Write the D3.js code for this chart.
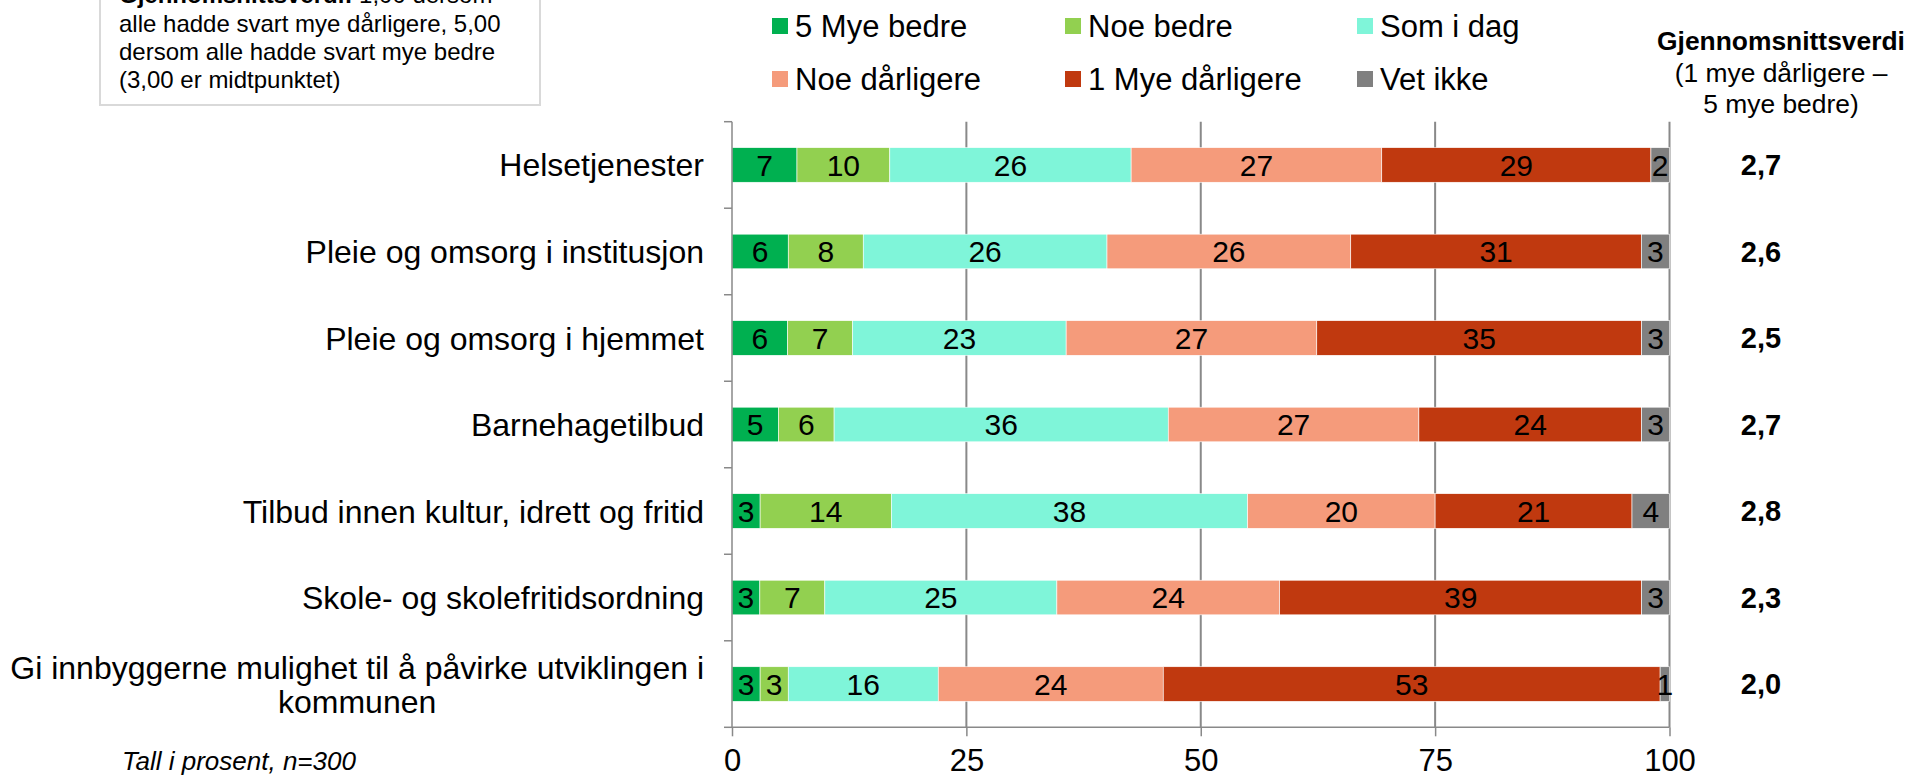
<!DOCTYPE html>
<html>
<head>
<meta charset="utf-8">
<script src="https://cdn.jsdelivr.net/npm/d3@7"></script>
<style>
  body { margin: 0; background: #fff; }
  svg { display: block; font-family: Arial, "Liberation Sans", sans-serif; }
</style>
</head>
<body>
<svg width="1910" height="778"></svg>
<script>
const categories = [
    "Helsetjenester",
    "Pleie og omsorg i institusjon",
    "Pleie og omsorg i hjemmet",
    "Barnehagetilbud",
    "Tilbud innen kultur, idrett og fritid",
    "Skole- og skolefritidsordning",
    "Gi innbyggerne mulighet til å påvirke utviklingen i\nkommunen"
];
const seriesNames = ["5 Mye bedre", "Noe bedre", "Som i dag", "Noe dårligere", "1 Mye dårligere", "Vet ikke"];
const colors = ["#00b050", "#92d050", "#7ff5d9", "#f59b7b", "#c0390f", "#808080"];

// percent per category, in series order
const muchBetter  = [7, 6, 6, 5, 3, 3, 3];
const bitBetter   = [10, 8, 7, 6, 14, 7, 3];
const sameAsToday = [26, 26, 23, 36, 38, 25, 16];
const bitWorse    = [27, 26, 27, 27, 20, 24, 24];
const muchWorse   = [29, 31, 35, 24, 21, 39, 53];
const dontKnow    = [2, 3, 3, 3, 4, 3, 1];
const averages    = ["2,7", "2,6", "2,5", "2,7", "2,8", "2,3", "2,0"];
const xTicks = [0, 25, 50, 75, 100];

const svg = d3.select("svg");
const grey = "#898989";

const x = d3.scaleLinear().domain([0, 100]).range([732, 1669.5]);
const y = d3.scaleBand().domain(categories).range([121.7, 727.3])
    .paddingInner(0.6).paddingOuter(0.3);

// gridlines
svg.append("g").selectAll("line")
    .data(xTicks.slice(1))
    .enter().append("line")
    .attr("x1", d => x(d)).attr("x2", d => x(d))
    .attr("y1", 121.7).attr("y2", 727.3)
    .attr("stroke", grey).attr("stroke-width", 2);

// stacked rows (rounded figures, stretched so each row ends at 100)
const series = [muchBetter, bitBetter, sameAsToday, bitWorse, muchWorse, dontKnow];
const rows = categories.map((c, i) => {
    const vals = series.map(s => s[i]);
    const total = d3.sum(vals);
    let acc = 0;
    return vals.map((v, k) => {
        const seg = {cat: c, k: k, v: v, x0: acc * 100 / total};
        acc += v;
        seg.x1 = acc * 100 / total;
        return seg;
    });
});

const segs = svg.append("g").selectAll("g")
    .data(rows.flat())
    .enter().append("g");

segs.append("rect")
    .attr("x", d => x(d.x0))
    .attr("y", d => y(d.cat))
    .attr("width", d => x(d.x1) - x(d.x0))
    .attr("height", y.bandwidth())
    .attr("fill", d => colors[d.k])
    .attr("stroke", "#fff").attr("stroke-width", 0.6);

segs.append("text")
    .attr("x", d => (x(d.x0) + x(d.x1)) / 2)
    .attr("y", d => y(d.cat) + y.bandwidth() / 2)
    .attr("dy", "0.36em")
    .attr("text-anchor", "middle")
    .attr("font-size", 30)
    .attr("fill", "#000")
    .text(d => d.v);

// left axis with ticks between categories
const left = svg.append("g").attr("stroke", grey).attr("stroke-width", 1.5);
left.append("line").attr("x1", 732).attr("x2", 732).attr("y1", 121.7).attr("y2", 727.3);
left.selectAll(".t")
    .data(d3.range(categories.length + 1))
    .enter().append("line")
    .attr("x1", 724).attr("x2", 732)
    .attr("y1", i => 121.7 + i * y.step())
    .attr("y2", i => 121.7 + i * y.step());

// bottom axis
const bottom = svg.append("g").attr("transform", "translate(0,727.3)")
    .call(d3.axisBottom(x).tickValues(xTicks).tickSize(9).tickPadding(13));
bottom.select(".domain").attr("stroke", grey).attr("stroke-width", 1.5).attr("d", "M732,0H1669.5");
bottom.selectAll(".tick line").attr("stroke", grey).attr("stroke-width", 1.5);
bottom.selectAll(".tick text").attr("font-size", 31).attr("font-family", "Arial, 'Liberation Sans', sans-serif")
    .attr("fill", "#000");

// category labels
categories.forEach(c => {
    const lines = c.split("\n");
    const cy = y(c) + y.bandwidth() / 2;
    const t = svg.append("text").attr("font-size", 32).attr("fill", "#000").attr("text-anchor", "middle");
    lines.forEach((l, i) => {
        t.append("tspan").attr("x", 0)
            .attr("y", cy + (i - (lines.length - 1) / 2) * 34)
            .attr("dy", "0.36em")
            .text(l);
    });
    const w = t.node().getBBox().width;
    t.attr("transform", `translate(${704 - w / 2},0)`);
});

// averages column
const header = svg.append("text").attr("text-anchor", "middle").attr("font-size", 26.4).attr("fill", "#000");
header.append("tspan").attr("x", 1781).attr("y", 50).attr("font-weight", "bold").text("Gjennomsnittsverdi");
header.append("tspan").attr("x", 1781).attr("y", 81.7).text("(1 mye dårligere –");
header.append("tspan").attr("x", 1781).attr("y", 113).text("5 mye bedre)");

svg.append("g").selectAll("text")
    .data(averages)
    .enter().append("text")
    .attr("x", 1761)
    .attr("y", (d, i) => y(categories[i]) + y.bandwidth() / 2)
    .attr("dy", "0.36em")
    .attr("text-anchor", "middle")
    .attr("font-size", 29).attr("font-weight", "bold")
    .text(d => d);

// legend
const legendX = [772, 1065, 1357];
const legendY = [26, 79];
const legend = svg.append("g").selectAll("g")
    .data(seriesNames)
    .enter().append("g")
    .attr("transform", (d, i) => `translate(${legendX[i % 3]},${legendY[Math.floor(i / 3)]})`);
legend.append("rect").attr("x", 0).attr("y", -8).attr("width", 16).attr("height", 16)
    .attr("fill", (d, i) => colors[i]);
legend.append("text").attr("x", 23).attr("y", 11).attr("font-size", 31).text(d => d);

// explanation box (top left), its first line runs off the top like in the source
svg.append("rect").attr("x", 100).attr("y", -40).attr("width", 440).attr("height", 145)
    .attr("fill", "#fff").attr("stroke", "#d9d9d9").attr("stroke-width", 2);
const note = svg.append("text").attr("font-size", 24).attr("fill", "#000");
const noteLines = ["alle hadde svart mye dårligere, 5,00", "dersom alle hadde svart mye bedre", "(3,00 er midtpunktet)"];
const first = note.append("tspan").attr("x", 119).attr("y", 3.4);
first.append("tspan").attr("font-weight", "bold").text("Gjennomsnittsverdi:");
first.append("tspan").text(" 1,00 dersom");
noteLines.forEach((l, i) => {
    note.append("tspan").attr("x", 119).attr("y", 31.7 + i * 28.3).text(l);
});

// footnote
svg.append("text").attr("x", 122).attr("y", 770).attr("font-size", 26).attr("font-style", "italic")
    .text("Tall i prosent, n=300");
</script>
</body>
</html>
